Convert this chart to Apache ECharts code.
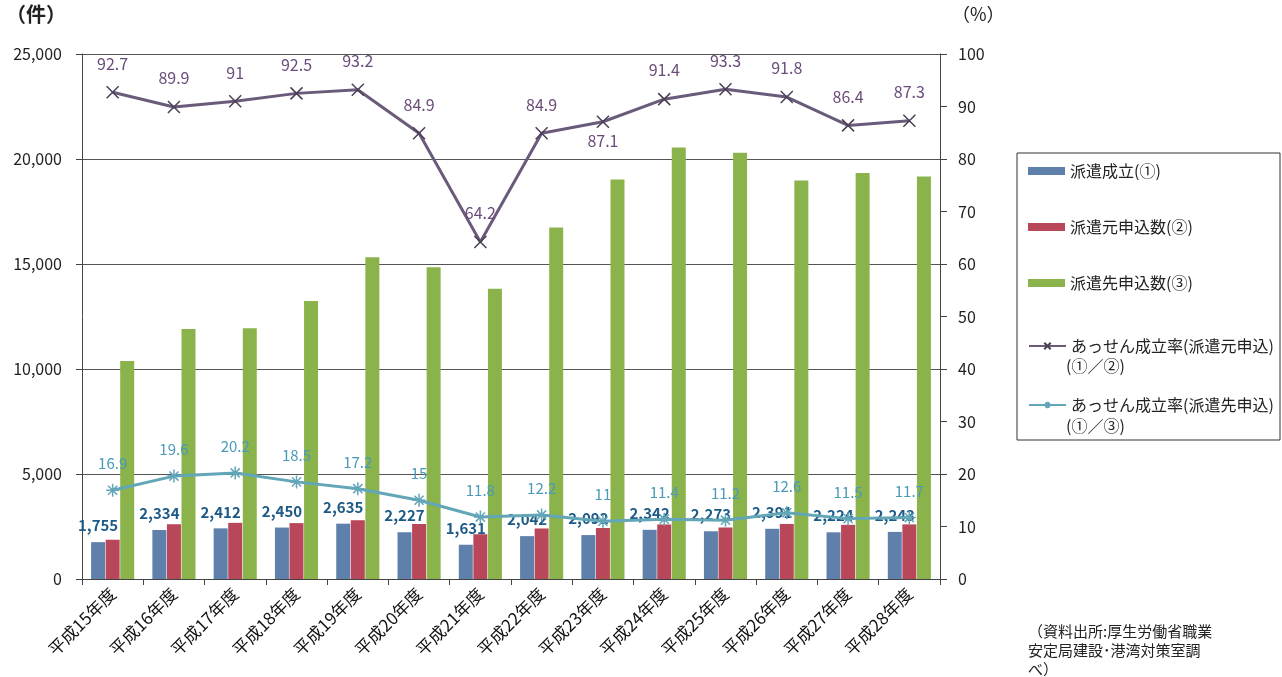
<!DOCTYPE html>
<html>
<head>
<meta charset="utf-8">
<script src="https://cdn.jsdelivr.net/npm/echarts@6/dist/echarts.min.js"></script>
<style>
html,body{margin:0;padding:0;background:#fff;}
#chart{width:1282px;height:677px;}
</style>
</head>
<body>
<div id="chart"></div>
<script>
const categories = ['平成15年度','平成16年度','平成17年度','平成18年度','平成19年度','平成20年度','平成21年度','平成22年度','平成23年度','平成24年度','平成25年度','平成26年度','平成27年度','平成28年度'];
const hakenSeiritsu = [1755,2334,2412,2450,2635,2227,1631,2042,2092,2342,2273,2391,2224,2243];
const motoMoushikomi = [1870,2609,2674,2662,2799,2620,2132,2406,2429,2598,2453,2622,2579,2601];
const sakiMoushikomi = [10385,11908,11941,13243,15320,14847,13822,16738,19018,20544,20295,18976,19339,19171];
const rateMoto = [92.7,89.9,91,92.5,93.2,84.9,64.2,84.9,87.1,91.4,93.3,91.8,86.4,87.3];
const rateSaki = [16.9,19.6,20.2,18.5,17.2,15,11.8,12.2,11,11.4,11.2,12.6,11.5,11.7];

const FONT = '"Noto Sans CJK JP", "Noto Sans", sans-serif';
const names = ['派遣成立(①)','派遣元申込数(②)','派遣先申込数(③)','あっせん成立率(派遣元申込)','あっせん成立率(派遣先申込)'];
const xSym = 'path://M0,0L10,10M10,0L0,10';
const starSym = 'path://M5,0L5,10M0,5L10,5M1.5,1.5L8.5,8.5M8.5,1.5L1.5,8.5';

const legendText = {fontSize: 16, color: '#222', fontFamily: FONT};
const chart = echarts.init(document.getElementById('chart'));
chart.setOption({
  backgroundColor: '#ffffff',
  textStyle: {fontFamily: FONT},
  animation: false,
  grid: {left: 82, right: 342, top: 54, bottom: 98},
  legend: [
    {
      orient: 'vertical', left: 1023, top: 158, itemGap: 40,
      itemWidth: 37, itemHeight: 8, textStyle: legendText,
      data: [
        {name: names[0], icon: 'rect'},
        {name: names[1], icon: 'rect'},
        {name: names[2], icon: 'rect'}
      ]
    },
    {
      orient: 'vertical', left: 1023, top: 333, itemGap: 43,
      itemWidth: 37, itemHeight: 8, textStyle: legendText,
      data: [{name: names[3]}, {name: names[4]}]
    }
  ],
  graphic: [
    {type: 'rect', shape: {x: 1017, y: 153, width: 263, height: 287}, style: {fill: 'none', stroke: '#333', lineWidth: 1}, z: -1},
    {type: 'text', left: 1066, top: 358, style: {text: '(①／②)', font: '16px ' + FONT, fill: '#222'}},
    {type: 'text', left: 1066, top: 418, style: {text: '(①／③)', font: '16px ' + FONT, fill: '#222'}},
    {type: 'text', left: 6, top: 4, style: {text: '（件）', font: 'bold 20px ' + FONT, fill: '#222'}},
    {type: 'text', left: 952, top: 5, style: {text: '（%）', font: '18px ' + FONT, fill: '#222'}},
    {type: 'text', left: 1028, top: 622, style: {text: '（資料出所:厚生労働省職業\n安定局建設･港湾対策室調\nべ）', font: '15px ' + FONT, lineHeight: 19, fill: '#222'}}
  ],
  xAxis: {
    type: 'category', data: categories,
    axisLine: {lineStyle: {color: '#444', width: 1}},
    axisTick: {show: true, length: 6, lineStyle: {color: '#444'}},
    axisLabel: {rotate: 45, fontSize: 17, color: '#111', margin: 12, fontFamily: FONT}
  },
  yAxis: [
    {
      type: 'value', min: 0, max: 25000, interval: 5000,
      axisLine: {show: true, lineStyle: {color: '#444'}},
      axisTick: {show: true, length: 6, lineStyle: {color: '#444'}},
      splitLine: {show: true, lineStyle: {color: '#555', width: 1}},
      axisLabel: {fontSize: 16, color: '#222', margin: 20,
        formatter: v => v.toLocaleString('en-US')}
    },
    {
      type: 'value', min: 0, max: 100, interval: 10, position: 'right',
      axisLine: {show: true, lineStyle: {color: '#444'}},
      axisTick: {show: true, length: 7, lineStyle: {color: '#444'}},
      splitLine: {show: false},
      axisLabel: {fontSize: 16, color: '#222', margin: 18}
    }
  ],
  series: [
    {
      name: names[0], type: 'bar', data: hakenSeiritsu, barWidth: 14, barGap: '4%', barCategoryGap: '30%',
      itemStyle: {color: '#5f80aa'},
      label: {show: true, position: 'top', distance: 9, fontSize: 15, fontWeight: 'bold', color: '#1d5a86',
        formatter: p => p.value.toLocaleString('en-US')},
      z: 3
    },
    {
      name: names[1], type: 'bar', data: motoMoushikomi, barWidth: 14,
      itemStyle: {color: '#b8475a'}
    },
    {
      name: names[2], type: 'bar', data: sakiMoushikomi, barWidth: 14,
      itemStyle: {color: '#8ab34c'}
    },
    {
      name: names[3], type: 'line', yAxisIndex: 1,
      data: rateMoto.map((v, i) => i === 8 ? {value: v, label: {position: 'bottom', distance: 4}} : v),
      symbol: xSym, symbolSize: 12,
      lineStyle: {color: '#6a5b7a', width: 3},
      itemStyle: {color: '#6a5b7a', borderColor: '#4a3f55', borderWidth: 1.5},
      label: {show: true, position: 'top', distance: 14, fontSize: 16, color: '#6a4c7a'},
      z: 5
    },
    {
      name: names[4], type: 'line', yAxisIndex: 1, data: rateSaki,
      symbol: starSym, symbolSize: 13,
      lineStyle: {color: '#62a6b8', width: 3},
      itemStyle: {color: '#62a6b8', borderColor: '#62a6b8', borderWidth: 1.5},
      label: {show: true, position: 'top', distance: 12, fontSize: 15, color: '#4a9ab8'},
      z: 4
    }
  ]
});
</script>
</body>
</html>
